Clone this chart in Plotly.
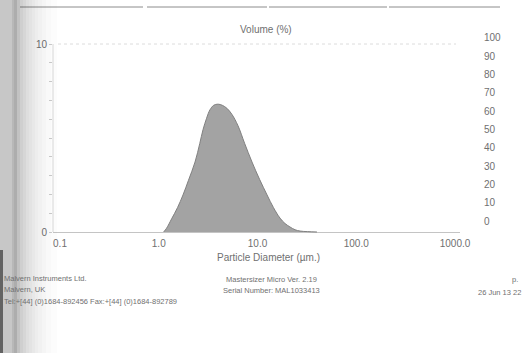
import plotly.graph_objects as go

# Particle size distribution (volume %, differential)
diameter_um = [1.12, 1.2, 1.35, 1.55, 1.76, 2.0, 2.33, 2.6, 2.81, 3.05, 3.3, 3.6,
               3.98, 4.4, 4.9, 5.52, 6.35, 7.4, 8.8, 10.5, 12.5, 14.5, 16.9, 19.0,
               21.3, 24.0, 27.0, 32.0, 40.0]
volume_pct = [0.0, 0.2, 0.7, 1.3, 1.97, 2.75, 3.72, 4.7, 5.45, 6.05, 6.5, 6.74,
              6.8, 6.74, 6.58, 6.25, 5.65, 4.72, 3.72, 2.8, 1.97, 1.3, 0.74, 0.45,
              0.27, 0.12, 0.05, 0.02, 0.0]

x_tick_vals = [0.1, 1, 10, 100, 1000]
x_tick_text = ["0.1", "1.0", "10.0", "100.0", "1000.0"]
left_tick_vals = list(range(0, 11))
left_tick_text = ["0", "", "", "", "", "", "", "", "", "", "10"]
right_tick_vals = list(range(0, 101, 10))

W, H = 523, 353
L, R, T, B = 53, 63, 36, 117
PW, PH = W - L - R, H - T - B

FONT = "Liberation Sans, Arial, sans-serif"
TXT = "#707070"


def px(xp):
    return (xp - L) / PW


def py(yp):
    return (T + PH - yp) / PH


fig = go.Figure()
fig.add_trace(go.Scatter(
    x=diameter_um, y=volume_pct, mode="lines", fill="tozeroy",
    line=dict(color="rgb(128,128,128)", width=1, shape="spline", smoothing=1.0),
    fillcolor="rgb(163,163,163)", hoverinfo="skip", showlegend=False,
))
# carrier for the cumulative scale on the right
fig.add_trace(go.Scatter(x=[1], y=[0], yaxis="y2", mode="markers",
                         marker=dict(opacity=0), hoverinfo="skip", showlegend=False))

fig.update_layout(
    width=W, height=H, margin=dict(l=L, r=R, t=T, b=B),
    paper_bgcolor="white", plot_bgcolor="rgba(0,0,0,0)",
    font=dict(family=FONT, color=TXT, size=10),
    xaxis=dict(type="log", range=[-1.0709, 3.0506], tickvals=x_tick_vals,
               ticktext=x_tick_text, showgrid=False, zeroline=False,
               showline=False, ticks="", tickfont=dict(size=10, color=TXT)),
    yaxis=dict(range=[-0.2128, 10.4255], tickvals=left_tick_vals,
               ticktext=left_tick_text, showgrid=False, zeroline=True,
               zerolinecolor="#c4c4c4", zerolinewidth=1, showline=False,
               ticks="outside", ticklen=3, tickcolor="#cccccc",
               tickfont=dict(size=10, color=TXT)),
    yaxis2=dict(overlaying="y", side="right", anchor="x",
                range=[-8.197, 101.09], tickvals=right_tick_vals,
                showgrid=False, zeroline=False, showline=False,
                ticks="outside", ticklen=21, tickcolor="rgba(0,0,0,0)",
                tickfont=dict(size=10, color=TXT)),
)

shapes = []
# left axis line
shapes.append(dict(type="line", xref="paper", yref="y", x0=0, x1=0, y0=0, y1=10,
                   line=dict(color="#dadada", width=1)))
# dotted top reference line
shapes.append(dict(type="line", xref="paper", yref="y", x0=px(58), x1=px(456), y0=10, y1=10,
                   line=dict(color="#dcdcdc", width=1, dash="dot")))
# form rules along the page top
for a, b in [(20, 143), (147, 267), (269, 387), (389, 500)]:
    shapes.append(dict(type="line", xref="paper", yref="paper", x0=px(a), x1=px(b),
                       y0=py(7), y1=py(7), line=dict(color="#8c8c8c", width=1)))
# soft shadow along the binding edge
bands = [(0, 12, 0.22), (12, 14, 0.28), (14, 17, 0.32), (17, 20, 0.24), (20, 23, 0.19),
         (23, 26, 0.16), (26, 29, 0.13), (29, 32, 0.11), (32, 35, 0.09), (35, 38, 0.07),
         (38, 42, 0.055), (42, 46, 0.04), (46, 51, 0.025), (51, 57, 0.012)]
for a, b, op in bands:
    shapes.append(dict(type="rect", xref="paper", yref="paper", x0=px(a), x1=px(b),
                       y0=py(H), y1=py(0), fillcolor="black", opacity=op,
                       line=dict(width=0), layer="above"))
# darker edge towards the lower part of the sheet
shapes.append(dict(type="rect", xref="paper", yref="paper", x0=px(0), x1=px(3),
                   y0=py(H), y1=py(250), fillcolor="black", opacity=0.5,
                   line=dict(width=0), layer="above"))
fig.update_layout(shapes=shapes)

ann = []


def note(text, x, y, anchor="center", size=10):
    ann.append(dict(text=text, xref="paper", yref="paper", x=px(x), y=py(y),
                    xanchor=anchor, yanchor="middle", showarrow=False,
                    font=dict(family=FONT, size=size, color=TXT)))


note("Volume (%)", 266, 30)
note("Particle Diameter (\u00b5m.)", 268, 257)
note("Malvern Instruments Ltd.", 2, 278, "left", 7.5)
note("Malvern, UK", 2, 289, "left", 7.5)
note("Tel:+[44] (0)1684-892456 Fax:+[44] (0)1684-892789", 2, 301, "left", 7.5)
note("Mastersizer Micro Ver. 2.19", 271, 279, size=7.5)
note("Serial Number: MAL1033413", 271, 290, size=7.5)
note("p.", 515, 279, size=7.5)
note("26 Jun 13 22", 499, 292, size=7.5)
fig.update_layout(annotations=ann)

fig.write_html("out.html")
